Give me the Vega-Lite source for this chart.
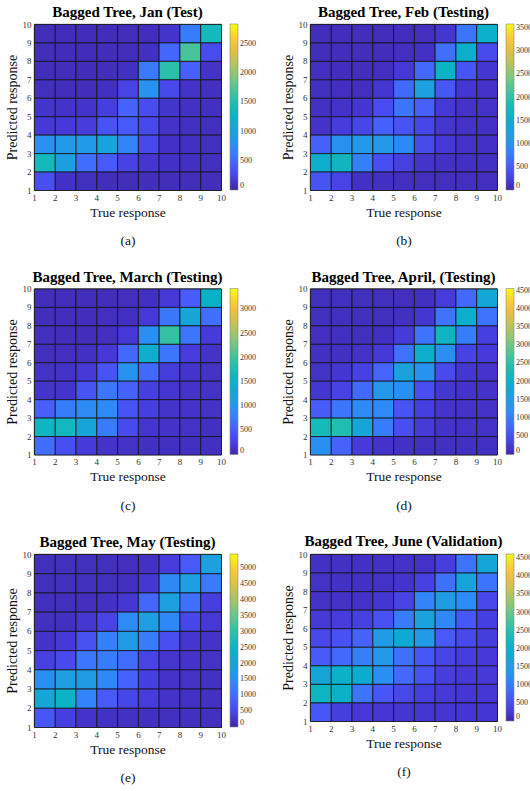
{
"$schema":"https://vega.github.io/schema/vega-lite/v6.json",
"autosize":{"type":"pad"},
"padding":{"left":4,"top":4,"right":0,"bottom":0},
"background":"white",
"columns":2,
"spacing":{"column":23,"row":20.5},
"resolve":{"scale":{"color":"independent"},"legend":{"color":"independent"}},
"config":{
 "font":"Liberation Serif",
 "view":{"stroke":"#333","strokeWidth":0.8},
 "title":{"font":"Liberation Serif","fontSize":15,"fontWeight":"bold","color":"#000","offset":0,"dy":4,"anchor":"middle"},
 "axis":{"labelFont":"Liberation Serif","labelFontSize":9,"labelColor":"#333","titleFont":"Liberation Serif","titleFontSize":14,"titleFontWeight":"normal","titleColor":"#111","grid":false,"ticks":false,"domain":false,"labelPadding":3,"titlePadding":3,"format":"d","labelFlush":false},
 "axisX":{"titleLineHeight":28.5,"titleFontSize":13.5},
 "legend":{"gradientThickness":8,"gradientStrokeColor":"#888","gradientStrokeWidth":0.6,"labelFont":"Liberation Serif","labelFontSize":8,"labelColor":"#333","offset":9,"padding":0,"labelOffset":4,"labelOverlap":false,"direction":"vertical"},
 "rect":{"stroke":"#111","strokeWidth":0.8}
},
"datasets":{
"a":[
{"t":1,"r":9,"v":60},{"t":2,"r":9,"v":55},{"t":3,"r":9,"v":55},{"t":4,"r":9,"v":55},{"t":5,"r":9,"v":60},{"t":6,"r":9,"v":65},{"t":7,"r":9,"v":110},{"t":8,"r":9,"v":620},{"t":9,"r":9,"v":1400},
{"t":1,"r":8,"v":60},{"t":2,"r":8,"v":55},{"t":3,"r":8,"v":55},{"t":4,"r":8,"v":55},{"t":5,"r":8,"v":60},{"t":6,"r":8,"v":80},{"t":7,"r":8,"v":480},{"t":8,"r":8,"v":1700},{"t":9,"r":8,"v":300},
{"t":1,"r":7,"v":65},{"t":2,"r":7,"v":60},{"t":3,"r":7,"v":55},{"t":4,"r":7,"v":60},{"t":5,"r":7,"v":80},{"t":6,"r":7,"v":600},{"t":7,"r":7,"v":1550},{"t":8,"r":7,"v":430},{"t":9,"r":7,"v":100},
{"t":1,"r":6,"v":70},{"t":2,"r":6,"v":65},{"t":3,"r":6,"v":60},{"t":4,"r":6,"v":80},{"t":5,"r":6,"v":230},{"t":6,"r":6,"v":800},{"t":7,"r":6,"v":280},{"t":8,"r":6,"v":100},{"t":9,"r":6,"v":80},
{"t":1,"r":5,"v":110},{"t":2,"r":5,"v":100},{"t":3,"r":5,"v":110},{"t":4,"r":5,"v":200},{"t":5,"r":5,"v":450},{"t":6,"r":5,"v":300},{"t":7,"r":5,"v":110},{"t":8,"r":5,"v":90},{"t":9,"r":5,"v":80},
{"t":1,"r":4,"v":150},{"t":2,"r":4,"v":160},{"t":3,"r":4,"v":180},{"t":4,"r":4,"v":350},{"t":5,"r":4,"v":400},{"t":6,"r":4,"v":260},{"t":7,"r":4,"v":100},{"t":8,"r":4,"v":80},{"t":9,"r":4,"v":70},
{"t":1,"r":3,"v":780},{"t":2,"r":3,"v":900},{"t":3,"r":3,"v":880},{"t":4,"r":3,"v":1050},{"t":5,"r":3,"v":680},{"t":6,"r":3,"v":270},{"t":7,"r":3,"v":90},{"t":8,"r":3,"v":80},{"t":9,"r":3,"v":70},
{"t":1,"r":2,"v":1400},{"t":2,"r":2,"v":970},{"t":3,"r":2,"v":520},{"t":4,"r":2,"v":400},{"t":5,"r":2,"v":220},{"t":6,"r":2,"v":120},{"t":7,"r":2,"v":90},{"t":8,"r":2,"v":80},{"t":9,"r":2,"v":70},
{"t":1,"r":1,"v":320},{"t":2,"r":1,"v":90},{"t":3,"r":1,"v":70},{"t":4,"r":1,"v":60},{"t":5,"r":1,"v":60},{"t":6,"r":1,"v":60},{"t":7,"r":1,"v":60},{"t":8,"r":1,"v":60},{"t":9,"r":1,"v":60}
],
"b":[
{"t":1,"r":9,"v":80},{"t":2,"r":9,"v":75},{"t":3,"r":9,"v":75},{"t":4,"r":9,"v":75},{"t":5,"r":9,"v":80},{"t":6,"r":9,"v":90},{"t":7,"r":9,"v":160},{"t":8,"r":9,"v":720},{"t":9,"r":9,"v":1550},
{"t":1,"r":8,"v":80},{"t":2,"r":8,"v":75},{"t":3,"r":8,"v":75},{"t":4,"r":8,"v":75},{"t":5,"r":8,"v":90},{"t":6,"r":8,"v":110},{"t":7,"r":8,"v":680},{"t":8,"r":8,"v":1500},{"t":9,"r":8,"v":360},
{"t":1,"r":7,"v":90},{"t":2,"r":7,"v":80},{"t":3,"r":7,"v":80},{"t":4,"r":7,"v":90},{"t":5,"r":7,"v":180},{"t":6,"r":7,"v":620},{"t":7,"r":7,"v":1650},{"t":8,"r":7,"v":450},{"t":9,"r":7,"v":160},
{"t":1,"r":6,"v":100},{"t":2,"r":6,"v":90},{"t":3,"r":6,"v":90},{"t":4,"r":6,"v":160},{"t":5,"r":6,"v":640},{"t":6,"r":6,"v":1250},{"t":7,"r":6,"v":480},{"t":8,"r":6,"v":160},{"t":9,"r":6,"v":130},
{"t":1,"r":5,"v":110},{"t":2,"r":5,"v":120},{"t":3,"r":5,"v":160},{"t":4,"r":5,"v":380},{"t":5,"r":5,"v":720},{"t":6,"r":5,"v":540},{"t":7,"r":5,"v":180},{"t":8,"r":5,"v":130},{"t":9,"r":5,"v":120},
{"t":1,"r":4,"v":130},{"t":2,"r":4,"v":220},{"t":3,"r":4,"v":320},{"t":4,"r":4,"v":560},{"t":5,"r":4,"v":440},{"t":6,"r":4,"v":320},{"t":7,"r":4,"v":150},{"t":8,"r":4,"v":120},{"t":9,"r":4,"v":110},
{"t":1,"r":3,"v":560},{"t":2,"r":3,"v":1000},{"t":3,"r":3,"v":1100},{"t":4,"r":3,"v":1120},{"t":5,"r":3,"v":900},{"t":6,"r":3,"v":360},{"t":7,"r":3,"v":180},{"t":8,"r":3,"v":120},{"t":9,"r":3,"v":110},
{"t":1,"r":2,"v":1500},{"t":2,"r":2,"v":1700},{"t":3,"r":2,"v":820},{"t":4,"r":2,"v":400},{"t":5,"r":2,"v":260},{"t":6,"r":2,"v":140},{"t":7,"r":2,"v":110},{"t":8,"r":2,"v":100},{"t":9,"r":2,"v":100},
{"t":1,"r":1,"v":440},{"t":2,"r":1,"v":300},{"t":3,"r":1,"v":110},{"t":4,"r":1,"v":100},{"t":5,"r":1,"v":90},{"t":6,"r":1,"v":90},{"t":7,"r":1,"v":90},{"t":8,"r":1,"v":90},{"t":9,"r":1,"v":90}
],
"c":[
{"t":1,"r":9,"v":80},{"t":2,"r":9,"v":80},{"t":3,"r":9,"v":80},{"t":4,"r":9,"v":80},{"t":5,"r":9,"v":90},{"t":6,"r":9,"v":100},{"t":7,"r":9,"v":170},{"t":8,"r":9,"v":500},{"t":9,"r":9,"v":1550},
{"t":1,"r":8,"v":80},{"t":2,"r":8,"v":80},{"t":3,"r":8,"v":80},{"t":4,"r":8,"v":90},{"t":5,"r":8,"v":100},{"t":6,"r":8,"v":170},{"t":7,"r":8,"v":700},{"t":8,"r":8,"v":1300},{"t":9,"r":8,"v":640},
{"t":1,"r":7,"v":90},{"t":2,"r":7,"v":80},{"t":3,"r":7,"v":80},{"t":4,"r":7,"v":90},{"t":5,"r":7,"v":170},{"t":6,"r":7,"v":930},{"t":7,"r":7,"v":1950},{"t":8,"r":7,"v":700},{"t":9,"r":7,"v":200},
{"t":1,"r":6,"v":90},{"t":2,"r":6,"v":90},{"t":3,"r":6,"v":100},{"t":4,"r":6,"v":170},{"t":5,"r":6,"v":600},{"t":6,"r":6,"v":1440},{"t":7,"r":6,"v":700},{"t":8,"r":6,"v":210},{"t":9,"r":6,"v":120},
{"t":1,"r":5,"v":110},{"t":2,"r":5,"v":110},{"t":3,"r":5,"v":180},{"t":4,"r":5,"v":420},{"t":5,"r":5,"v":980},{"t":6,"r":5,"v":600},{"t":7,"r":5,"v":210},{"t":8,"r":5,"v":130},{"t":9,"r":5,"v":110},
{"t":1,"r":4,"v":130},{"t":2,"r":4,"v":130},{"t":3,"r":4,"v":420},{"t":4,"r":4,"v":700},{"t":5,"r":4,"v":540},{"t":6,"r":4,"v":240},{"t":7,"r":4,"v":140},{"t":8,"r":4,"v":120},{"t":9,"r":4,"v":110},
{"t":1,"r":3,"v":520},{"t":2,"r":3,"v":760},{"t":3,"r":3,"v":900},{"t":4,"r":3,"v":870},{"t":5,"r":3,"v":420},{"t":6,"r":3,"v":240},{"t":7,"r":3,"v":130},{"t":8,"r":3,"v":120},{"t":9,"r":3,"v":110},
{"t":1,"r":2,"v":1620},{"t":2,"r":2,"v":1660},{"t":3,"r":2,"v":1280},{"t":4,"r":2,"v":760},{"t":5,"r":2,"v":340},{"t":6,"r":2,"v":140},{"t":7,"r":2,"v":120},{"t":8,"r":2,"v":110},{"t":9,"r":2,"v":100},
{"t":1,"r":1,"v":630},{"t":2,"r":1,"v":390},{"t":3,"r":1,"v":200},{"t":4,"r":1,"v":120},{"t":5,"r":1,"v":110},{"t":6,"r":1,"v":100},{"t":7,"r":1,"v":100},{"t":8,"r":1,"v":100},{"t":9,"r":1,"v":100}
],
"d":[
{"t":1,"r":9,"v":110},{"t":2,"r":9,"v":110},{"t":3,"r":9,"v":110},{"t":4,"r":9,"v":110},{"t":5,"r":9,"v":120},{"t":6,"r":9,"v":130},{"t":7,"r":9,"v":280},{"t":8,"r":9,"v":800},{"t":9,"r":9,"v":1750},
{"t":1,"r":8,"v":110},{"t":2,"r":8,"v":110},{"t":3,"r":8,"v":110},{"t":4,"r":8,"v":110},{"t":5,"r":8,"v":130},{"t":6,"r":8,"v":200},{"t":7,"r":8,"v":900},{"t":8,"r":8,"v":1900},{"t":9,"r":8,"v":900},
{"t":1,"r":7,"v":120},{"t":2,"r":7,"v":110},{"t":3,"r":7,"v":110},{"t":4,"r":7,"v":130},{"t":5,"r":7,"v":260},{"t":6,"r":7,"v":900},{"t":7,"r":7,"v":2150},{"t":8,"r":7,"v":1000},{"t":9,"r":7,"v":300},
{"t":1,"r":6,"v":130},{"t":2,"r":6,"v":130},{"t":3,"r":6,"v":150},{"t":4,"r":6,"v":250},{"t":5,"r":6,"v":880},{"t":6,"r":6,"v":1900},{"t":7,"r":6,"v":1230},{"t":8,"r":6,"v":360},{"t":9,"r":6,"v":270},
{"t":1,"r":5,"v":150},{"t":2,"r":5,"v":200},{"t":3,"r":5,"v":340},{"t":4,"r":5,"v":750},{"t":5,"r":5,"v":1650},{"t":6,"r":5,"v":1280},{"t":7,"r":5,"v":450},{"t":8,"r":5,"v":200},{"t":9,"r":5,"v":180},
{"t":1,"r":4,"v":200},{"t":2,"r":4,"v":350},{"t":3,"r":4,"v":800},{"t":4,"r":4,"v":1370},{"t":5,"r":4,"v":1230},{"t":6,"r":4,"v":500},{"t":7,"r":4,"v":200},{"t":8,"r":4,"v":170},{"t":9,"r":4,"v":160},
{"t":1,"r":3,"v":650},{"t":2,"r":3,"v":920},{"t":3,"r":3,"v":1150},{"t":4,"r":3,"v":1150},{"t":5,"r":3,"v":560},{"t":6,"r":3,"v":300},{"t":7,"r":3,"v":180},{"t":8,"r":3,"v":160},{"t":9,"r":3,"v":150},
{"t":1,"r":2,"v":2280},{"t":2,"r":2,"v":2380},{"t":3,"r":2,"v":1730},{"t":4,"r":2,"v":1000},{"t":5,"r":2,"v":500},{"t":6,"r":2,"v":260},{"t":7,"r":2,"v":170},{"t":8,"r":2,"v":150},{"t":9,"r":2,"v":150},
{"t":1,"r":1,"v":1230},{"t":2,"r":1,"v":740},{"t":3,"r":1,"v":270},{"t":4,"r":1,"v":170},{"t":5,"r":1,"v":140},{"t":6,"r":1,"v":130},{"t":7,"r":1,"v":130},{"t":8,"r":1,"v":130},{"t":9,"r":1,"v":130}
],
"e":[
{"t":1,"r":9,"v":130},{"t":2,"r":9,"v":130},{"t":3,"r":9,"v":130},{"t":4,"r":9,"v":130},{"t":5,"r":9,"v":140},{"t":6,"r":9,"v":160},{"t":7,"r":9,"v":330},{"t":8,"r":9,"v":760},{"t":9,"r":9,"v":1900},
{"t":1,"r":8,"v":130},{"t":2,"r":8,"v":130},{"t":3,"r":8,"v":130},{"t":4,"r":8,"v":130},{"t":5,"r":8,"v":150},{"t":6,"r":8,"v":250},{"t":7,"r":8,"v":1360},{"t":8,"r":8,"v":1850},{"t":9,"r":8,"v":1140},
{"t":1,"r":7,"v":140},{"t":2,"r":7,"v":130},{"t":3,"r":7,"v":140},{"t":4,"r":7,"v":160},{"t":5,"r":7,"v":250},{"t":6,"r":7,"v":930},{"t":7,"r":7,"v":1900},{"t":8,"r":7,"v":1040},{"t":9,"r":7,"v":380},
{"t":1,"r":6,"v":150},{"t":2,"r":6,"v":150},{"t":3,"r":6,"v":250},{"t":4,"r":6,"v":440},{"t":5,"r":6,"v":1420},{"t":6,"r":6,"v":1850},{"t":7,"r":6,"v":1360},{"t":8,"r":6,"v":490},{"t":9,"r":6,"v":270},
{"t":1,"r":5,"v":200},{"t":2,"r":5,"v":300},{"t":3,"r":5,"v":650},{"t":4,"r":5,"v":1250},{"t":5,"r":5,"v":1800},{"t":6,"r":5,"v":1200},{"t":7,"r":5,"v":600},{"t":8,"r":5,"v":230},{"t":9,"r":5,"v":200},
{"t":1,"r":4,"v":400},{"t":2,"r":4,"v":550},{"t":3,"r":4,"v":1100},{"t":4,"r":4,"v":1200},{"t":5,"r":4,"v":980},{"t":6,"r":4,"v":440},{"t":7,"r":4,"v":220},{"t":8,"r":4,"v":190},{"t":9,"r":4,"v":180},
{"t":1,"r":3,"v":1470},{"t":2,"r":3,"v":1850},{"t":3,"r":3,"v":1800},{"t":4,"r":3,"v":1360},{"t":5,"r":3,"v":870},{"t":6,"r":3,"v":380},{"t":7,"r":3,"v":200},{"t":8,"r":3,"v":180},{"t":9,"r":3,"v":170},
{"t":1,"r":2,"v":2070},{"t":2,"r":2,"v":2500},{"t":3,"r":2,"v":1300},{"t":4,"r":2,"v":760},{"t":5,"r":2,"v":490},{"t":6,"r":2,"v":330},{"t":7,"r":2,"v":200},{"t":8,"r":2,"v":170},{"t":9,"r":2,"v":160},
{"t":1,"r":1,"v":710},{"t":2,"r":1,"v":380},{"t":3,"r":1,"v":200},{"t":4,"r":1,"v":170},{"t":5,"r":1,"v":160},{"t":6,"r":1,"v":150},{"t":7,"r":1,"v":150},{"t":8,"r":1,"v":150},{"t":9,"r":1,"v":150}
],
"f":[
{"t":1,"r":9,"v":140},{"t":2,"r":9,"v":140},{"t":3,"r":9,"v":140},{"t":4,"r":9,"v":140},{"t":5,"r":9,"v":150},{"t":6,"r":9,"v":160},{"t":7,"r":9,"v":320},{"t":8,"r":9,"v":920},{"t":9,"r":9,"v":1750},
{"t":1,"r":8,"v":150},{"t":2,"r":8,"v":140},{"t":3,"r":8,"v":140},{"t":4,"r":8,"v":150},{"t":5,"r":8,"v":180},{"t":6,"r":8,"v":330},{"t":7,"r":8,"v":880},{"t":8,"r":8,"v":1700},{"t":9,"r":8,"v":920},
{"t":1,"r":7,"v":160},{"t":2,"r":7,"v":150},{"t":3,"r":7,"v":160},{"t":4,"r":7,"v":200},{"t":5,"r":7,"v":380},{"t":6,"r":7,"v":1100},{"t":7,"r":7,"v":1520},{"t":8,"r":7,"v":1200},{"t":9,"r":7,"v":420},
{"t":1,"r":6,"v":250},{"t":2,"r":6,"v":280},{"t":3,"r":6,"v":330},{"t":4,"r":6,"v":550},{"t":5,"r":6,"v":1000},{"t":6,"r":6,"v":1660},{"t":7,"r":6,"v":1150},{"t":8,"r":6,"v":600},{"t":9,"r":6,"v":320},
{"t":1,"r":5,"v":420},{"t":2,"r":5,"v":560},{"t":3,"r":5,"v":750},{"t":4,"r":5,"v":1520},{"t":5,"r":5,"v":1850},{"t":6,"r":5,"v":1480},{"t":7,"r":5,"v":650},{"t":8,"r":5,"v":430},{"t":9,"r":5,"v":300},
{"t":1,"r":4,"v":650},{"t":2,"r":4,"v":800},{"t":3,"r":4,"v":1050},{"t":4,"r":4,"v":1400},{"t":5,"r":4,"v":880},{"t":6,"r":4,"v":600},{"t":7,"r":4,"v":370},{"t":8,"r":4,"v":300},{"t":9,"r":4,"v":260},
{"t":1,"r":3,"v":1750},{"t":2,"r":3,"v":2030},{"t":3,"r":3,"v":1880},{"t":4,"r":3,"v":1250},{"t":5,"r":3,"v":800},{"t":6,"r":3,"v":550},{"t":7,"r":3,"v":300},{"t":8,"r":3,"v":250},{"t":9,"r":3,"v":250},
{"t":1,"r":2,"v":2170},{"t":2,"r":2,"v":2030},{"t":3,"r":2,"v":920},{"t":4,"r":2,"v":600},{"t":5,"r":2,"v":420},{"t":6,"r":2,"v":320},{"t":7,"r":2,"v":240},{"t":8,"r":2,"v":220},{"t":9,"r":2,"v":220},
{"t":1,"r":1,"v":600},{"t":2,"r":1,"v":320},{"t":3,"r":1,"v":230},{"t":4,"r":1,"v":220},{"t":5,"r":1,"v":210},{"t":6,"r":1,"v":210},{"t":7,"r":1,"v":210},{"t":8,"r":1,"v":210},{"t":9,"r":1,"v":210}
]
},
"concat":[
{"width":187,"height":166,"data":{"name":"a"},"title":"Bagged Tree, Jan (Test)","mark":"rect",
 "encoding":{
  "x":{"field":"t","type":"quantitative","bin":{"extent":[1,10],"step":1},"axis":{"title":["True response","(a)"]}},
  "y":{"field":"r","type":"quantitative","bin":{"extent":[1,10],"step":1},"axis":{"title":"Predicted response"}},
  "color":{"field":"v","type":"quantitative","scale":{"domain":[0,2840],"interpolate":"rgb","range":["#3E26A8","#4538D6","#484AEE","#475EFB","#3D74FE","#2E89F7","#2597EB","#1DA0DF","#0FAAD2","#09B3C7","#16BAB9","#2DC0AA","#49C49A","#6AC788","#8CC776","#AEC563","#CEC251","#E8BE43","#FBC339","#F6DD28","#F9FB0E"]},"legend":{"title":null,"format":"d","values":[0,500,1000,1500,2000,2500],"gradientLength":166}}
 }},
{"width":187,"height":166,"data":{"name":"b"},"title":"Bagged Tree, Feb (Testing)","mark":"rect",
 "encoding":{
  "x":{"field":"t","type":"quantitative","bin":{"extent":[1,10],"step":1},"axis":{"title":["True response","(b)"]}},
  "y":{"field":"r","type":"quantitative","bin":{"extent":[1,10],"step":1},"axis":{"title":"Predicted response"}},
  "color":{"field":"v","type":"quantitative","scale":{"domain":[0,3590],"interpolate":"rgb","range":["#3E26A8","#4538D6","#484AEE","#475EFB","#3D74FE","#2E89F7","#2597EB","#1DA0DF","#0FAAD2","#09B3C7","#16BAB9","#2DC0AA","#49C49A","#6AC788","#8CC776","#AEC563","#CEC251","#E8BE43","#FBC339","#F6DD28","#F9FB0E"]},"legend":{"title":null,"format":"d","values":[0,500,1000,1500,2000,2500,3000,3500],"gradientLength":166}}
 }},
{"width":187,"height":166,"data":{"name":"c"},"title":"Bagged Tree, March (Testing)","mark":"rect",
 "encoding":{
  "x":{"field":"t","type":"quantitative","bin":{"extent":[1,10],"step":1},"axis":{"title":["True response","(c)"]}},
  "y":{"field":"r","type":"quantitative","bin":{"extent":[1,10],"step":1},"axis":{"title":"Predicted response"}},
  "color":{"field":"v","type":"quantitative","scale":{"domain":[0,3430],"interpolate":"rgb","range":["#3E26A8","#4538D6","#484AEE","#475EFB","#3D74FE","#2E89F7","#2597EB","#1DA0DF","#0FAAD2","#09B3C7","#16BAB9","#2DC0AA","#49C49A","#6AC788","#8CC776","#AEC563","#CEC251","#E8BE43","#FBC339","#F6DD28","#F9FB0E"]},"legend":{"title":null,"format":"d","values":[0,500,1000,1500,2000,2500,3000],"gradientLength":166}}
 }},
{"width":187,"height":166,"data":{"name":"d"},"title":"Bagged Tree, April, (Testing)","mark":"rect",
 "encoding":{
  "x":{"field":"t","type":"quantitative","bin":{"extent":[1,10],"step":1},"axis":{"title":["True response","(d)"]}},
  "y":{"field":"r","type":"quantitative","bin":{"extent":[1,10],"step":1},"axis":{"title":"Predicted response"}},
  "color":{"field":"v","type":"quantitative","scale":{"domain":[0,4560],"interpolate":"rgb","range":["#3E26A8","#4538D6","#484AEE","#475EFB","#3D74FE","#2E89F7","#2597EB","#1DA0DF","#0FAAD2","#09B3C7","#16BAB9","#2DC0AA","#49C49A","#6AC788","#8CC776","#AEC563","#CEC251","#E8BE43","#FBC339","#F6DD28","#F9FB0E"]},"legend":{"title":null,"format":"d","values":[0,500,1000,1500,2000,2500,3000,3500,4000,4500],"gradientLength":166}}
 }},
{"width":187,"height":173,"data":{"name":"e"},"title":"Bagged Tree, May (Testing)","mark":"rect",
 "encoding":{
  "x":{"field":"t","type":"quantitative","bin":{"extent":[1,10],"step":1},"axis":{"title":["True response","(e)"]}},
  "y":{"field":"r","type":"quantitative","bin":{"extent":[1,10],"step":1},"axis":{"title":"Predicted response"}},
  "color":{"field":"v","type":"quantitative","scale":{"domain":[0,5450],"interpolate":"rgb","range":["#3E26A8","#4538D6","#484AEE","#475EFB","#3D74FE","#2E89F7","#2597EB","#1DA0DF","#0FAAD2","#09B3C7","#16BAB9","#2DC0AA","#49C49A","#6AC788","#8CC776","#AEC563","#CEC251","#E8BE43","#FBC339","#F6DD28","#F9FB0E"]},"legend":{"title":null,"format":"d","values":[0,500,1000,1500,2000,2500,3000,3500,4000,4500,5000],"gradientLength":173}}
 }},
{"width":187,"height":167,"data":{"name":"f"},"title":{"text":"Bagged Tree, June (Validation)","offset":5},"mark":"rect",
 "encoding":{
  "x":{"field":"t","type":"quantitative","bin":{"extent":[1,10],"step":1},"axis":{"title":["True response","(f)"]}},
  "y":{"field":"r","type":"quantitative","bin":{"extent":[1,10],"step":1},"axis":{"title":"Predicted response"}},
  "color":{"field":"v","type":"quantitative","scale":{"domain":[0,4620],"interpolate":"rgb","range":["#3E26A8","#4538D6","#484AEE","#475EFB","#3D74FE","#2E89F7","#2597EB","#1DA0DF","#0FAAD2","#09B3C7","#16BAB9","#2DC0AA","#49C49A","#6AC788","#8CC776","#AEC563","#CEC251","#E8BE43","#FBC339","#F6DD28","#F9FB0E"]},"legend":{"title":null,"format":"d","values":[0,500,1000,1500,2000,2500,3000,3500,4000,4500],"gradientLength":167}}
 }}
]
}
